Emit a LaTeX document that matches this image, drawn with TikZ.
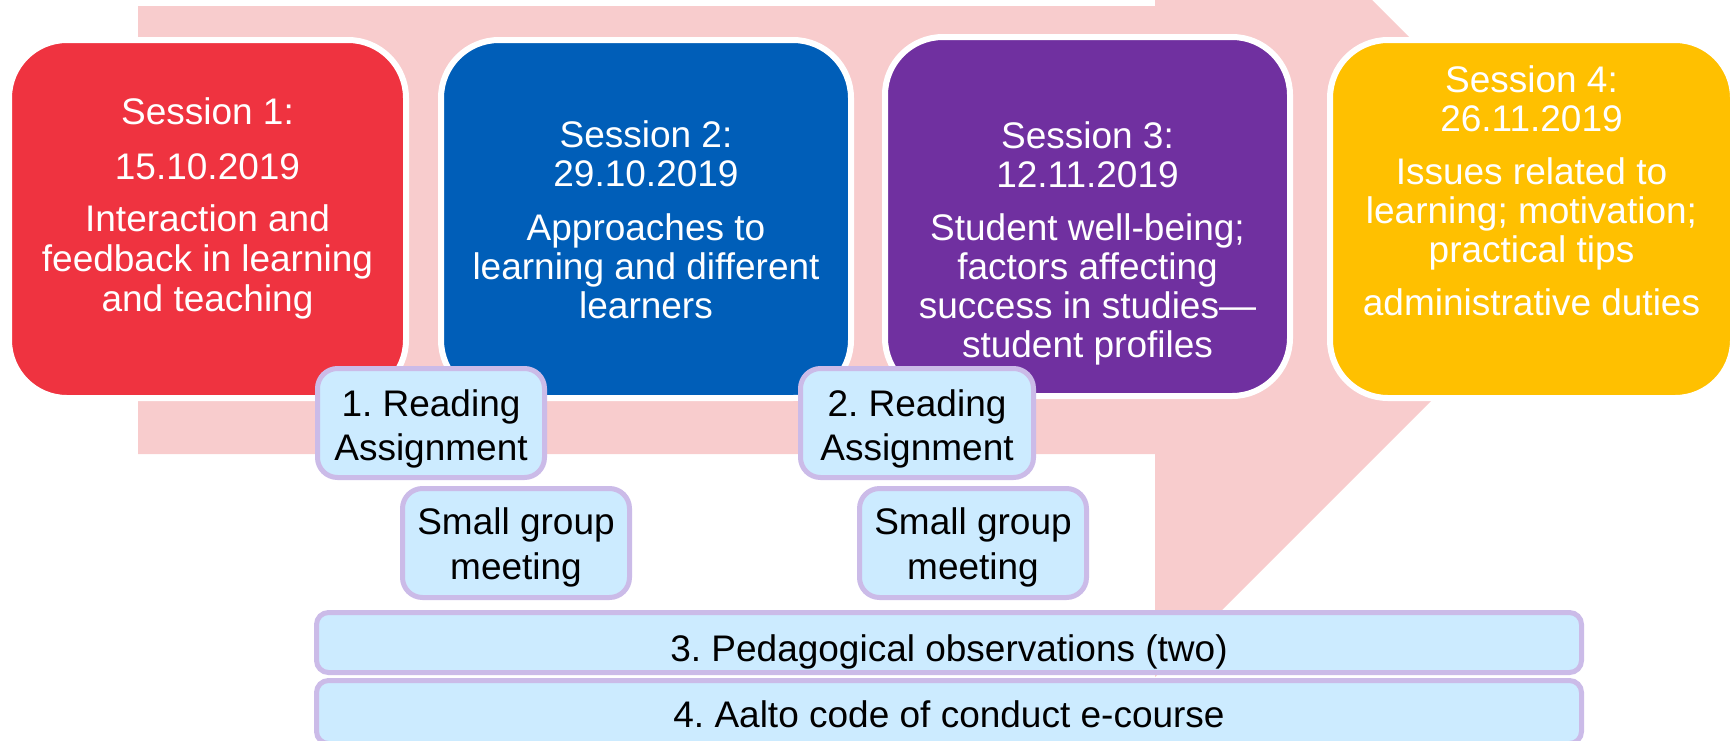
\documentclass[tikz,border=0pt]{standalone}
\usepackage{fontspec}
\setmainfont{Liberation Sans}
\frenchspacing
\definecolor{arrowpink}{HTML}{F8CCCD}
\definecolor{sred}{HTML}{EF3340}
\definecolor{sblue}{HTML}{005EB8}
\definecolor{spurple}{HTML}{7030A0}
\definecolor{syellow}{HTML}{FFC000}
\definecolor{lblue}{HTML}{CCEBFF}
\definecolor{lav}{HTML}{CBBBE8}
\tikzset{
  sessbox/.style={rectangle, rounded corners=29pt, draw=white, line width=3pt, inner sep=0pt, outer sep=0pt, minimum height=179pt},
  taskbox/.style={rectangle, rounded corners=10pt, draw=lav, fill=lblue, line width=2.5pt, inner sep=0pt, outer sep=0pt, minimum width=113.5pt, minimum height=54.5pt},
  widebox/.style={taskbox, rounded corners=6pt, minimum width=632.5pt},
  wtxt/.style={anchor=base, inner sep=0pt, text=white, font=\fontsize{18.5pt}{19.5pt}\selectfont\frenchspacing},
  btxt/.style={anchor=base, inner sep=0pt, text=black, font=\fontsize{18.5pt}{19.5pt}\selectfont\frenchspacing}
}
\begin{document}
\begin{tikzpicture}[x=0.5pt,y=-0.5pt]
\useasboundingbox (0,0) rectangle (1735,740);
\begin{scope}
\clip (0,0) rectangle (1735,740);
% big background arrow
\fill[arrowpink] (138,6) -- (1155,6) -- (1155,-217) -- (1602,230) -- (1155,677) -- (1155,454) -- (138,454) -- cycle;
% session boxes
\node[sessbox, fill=sred, minimum width=198.5pt] (s1) at (207.5,219) {};
\node[sessbox, fill=sblue, minimum width=205pt] (s2) at (646,219) {};
\node[sessbox, fill=spurple, minimum width=202.5pt, minimum height=179.5pt] (s3) at (1087.5,216.5) {};
\node[sessbox, fill=syellow, minimum width=201.5pt] (s4) at (1531.5,219) {};
% task boxes
\node[taskbox] (r1) at (431,423) {};
\node[taskbox] (g1) at (516,543) {};
\node[taskbox, minimum width=116.5pt] (r2) at (917,423) {};
\node[taskbox] (g2) at (973,543) {};
\node[widebox, minimum height=30pt] (ped) at (949,642.5) {};
\node[widebox, minimum height=31.5pt] (aalto) at (949,712) {};
\end{scope}
% session texts
\foreach \t/\yy [count=\i] in {Session 1:/124, 15.10.2019/179, Interaction and/231, feedback in learning/271, and teaching/311}
  \node[wtxt] (ta\i) at (207.5,\yy) {\t};
\foreach \t/\yy [count=\i] in {Session 2:/147, 29.10.2019/186, Approaches to/240, learning and different/279, learners/318}
  \node[wtxt] (tb\i) at (646,\yy) {\t};
\foreach \t/\yy [count=\i] in {Session 3:/148, 12.11.2019/187, Student well-being;/240, factors affecting/279, success in studies—/318, student profiles/357}
  \node[wtxt] (tc\i) at (1087.5,\yy) {\t};
\foreach \t/\yy [count=\i] in {Session 4:/92, 26.11.2019/131, Issues related to/184, learning; motivation;/223, practical tips/262, administrative duties/315}
  \node[wtxt] (td\i) at (1531.5,\yy) {\t};
% task texts
\node[btxt] (r1a) at (431,416) {1. Reading};
\node[btxt] (r1b) at (431,460) {Assignment};
\node[btxt] (g1a) at (516,534) {Small group};
\node[btxt] (g1b) at (516,579) {meeting};
\node[btxt] (r2a) at (917,416) {2. Reading};
\node[btxt] (r2b) at (917,460) {Assignment};
\node[btxt] (g2a) at (973,534) {Small group};
\node[btxt] (g2b) at (973,579) {meeting};
\node[btxt] (pedt) at (949,661) {3. Pedagogical observations (two)};
\node[btxt] (aaltot) at (949,727) {4. Aalto code of conduct e-course};
\end{tikzpicture}
\end{document}
